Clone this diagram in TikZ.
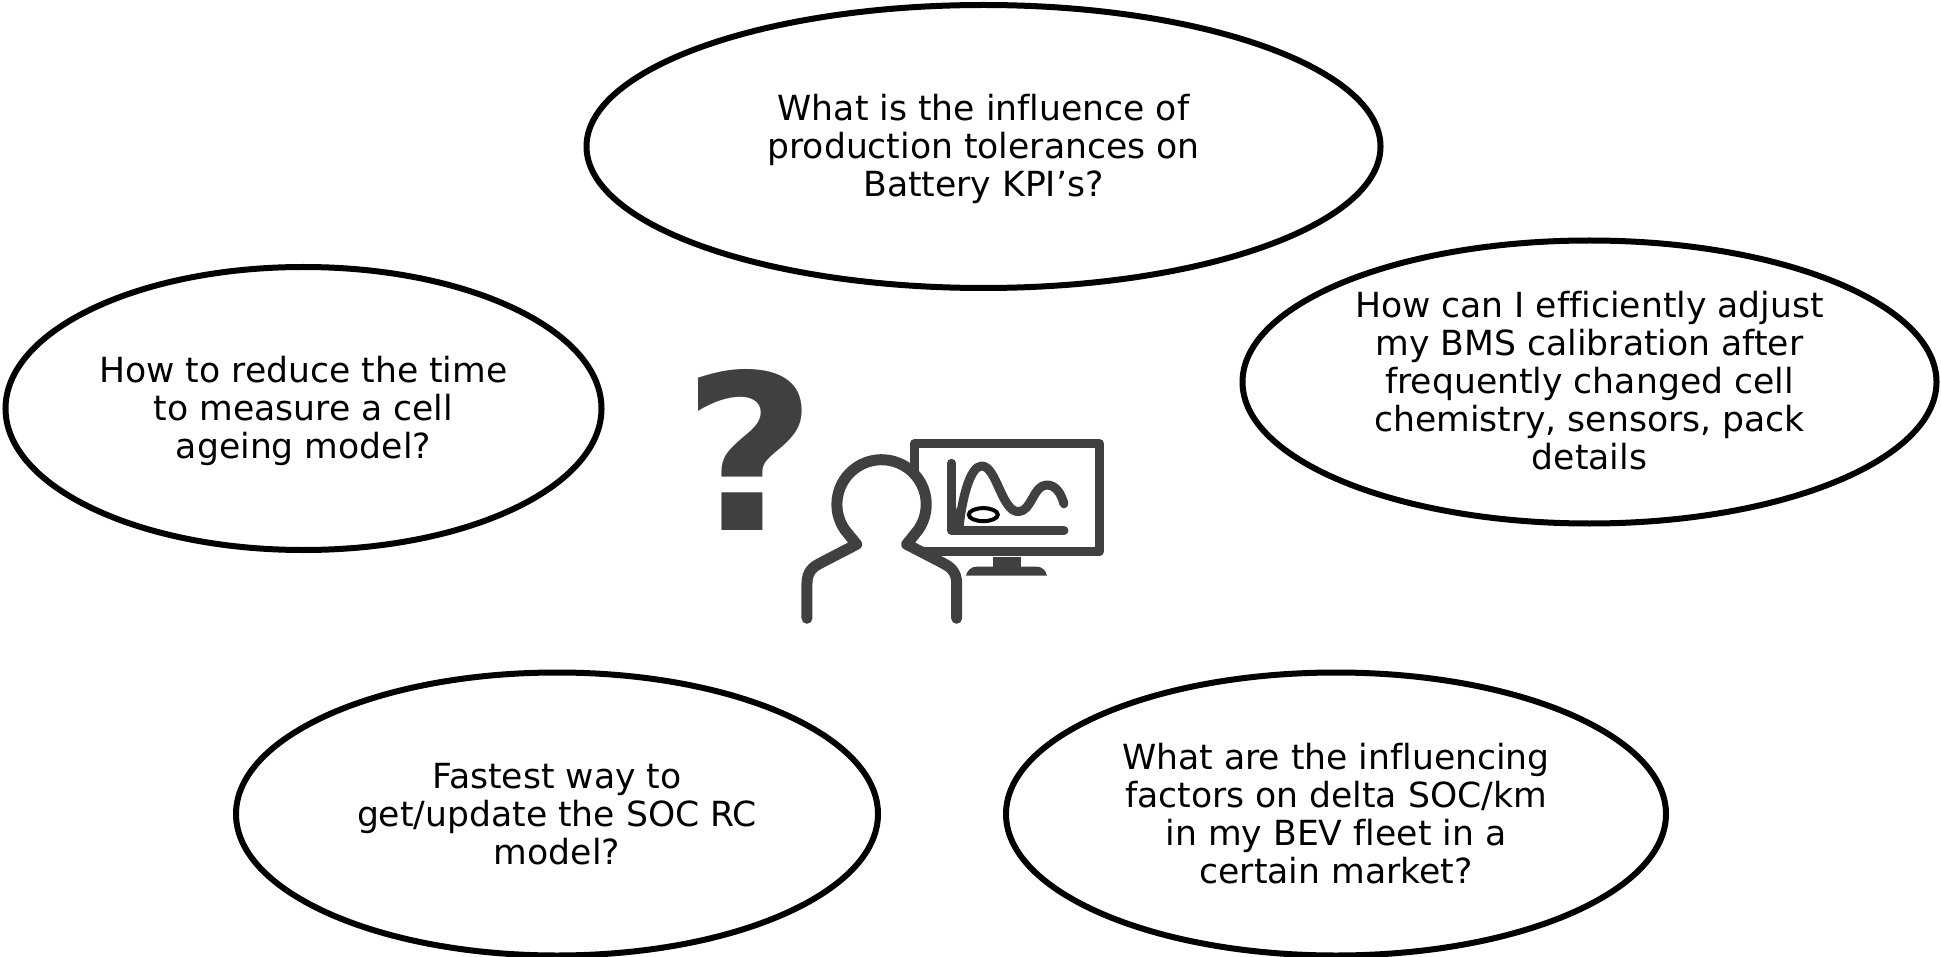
\documentclass[tikz,border=0pt]{standalone}
\usepackage{fontspec}
\setmainfont[Ligatures=NoCommon]{DejaVu Sans}
\usetikzlibrary{shapes.geometric}
\definecolor{icongray}{HTML}{404040}
\newcommand{\lowerfive}{\rule{0pt}{31pt}}
\newcommand{\raisetwo}{\rule[-4pt]{0pt}{1pt}}
\tikzset{
  bubble/.style={ellipse,draw=black,line width=6pt,fill=white,inner sep=0pt,outer sep=0pt,align=center,
    font=\fontsize{34.6}{38}\selectfont,minimum height=283pt},
  iconline/.style={draw=icongray,line cap=round,line join=round,fill=none},
}
\begin{document}
\begin{tikzpicture}[x=1pt,y=-1pt]
\useasboundingbox (0,0) rectangle (1941,957);
\node[bubble,minimum width=794pt] (top) at (983.5,146.5) {\lowerfive What is the influence of\\production tolerances on\\Battery KPI’s?};
\node[bubble,minimum width=596pt] (left) at (303.5,408.5) {\lowerfive How to reduce the time\\to measure a cell\\ageing model?};
\node[bubble,minimum width=694pt] (right) at (1589.5,382) {How can I efficiently adjust\\my BMS calibration after\\frequently changed cell\\chemistry, sensors, pack\\details\raisetwo};
\node[bubble,minimum width=642pt] (bl) at (557,814) {Fastest way to\\get/update the SOC RC\\model?};
\node[bubble,minimum width=660pt] (br) at (1336,814) {What are the influencing\\factors on delta SOC/km\\in my BEV fleet in a\\certain market?};
\node[anchor=base,inner sep=0pt,text=icongray,xscale=1.07,font=\fontsize{217}{217}\selectfont\bfseries] (qm) at (750,530.5) {?};
\begin{scope}[shift={(660,340)},x=0.3333pt,y=-0.3333pt]
  % monitor
  \draw[draw=icongray,line width=9pt,line join=round] (763,395) -- (763,310) -- (1318,310) -- (1318,636) -- (790,636);
  \fill[icongray] (998,650) rectangle (1082,682);
  \fill[icongray] (918,707) .. controls (922,690) and (935,680) .. (950,680) -- (1130,680) .. controls (1145,680) and (1158,690) .. (1161,707) -- cycle;
  % chart
  \draw[iconline,line width=9pt] (875,370) -- (875,572) -- (1212,572);
  \fill[icongray] (888,500) -- (905,558) -- (885,572) -- cycle;
  \draw[iconline,line width=9pt,line cap=butt] (897,565) .. controls (905,480) and (930,378) .. (965,378) .. controls (1010,378) and (1025,515) .. (1075,515) .. controls (1115,515) and (1120,435) .. (1160,435) .. controls (1190,435) and (1205,465) .. (1212,492);
  \fill[icongray] (1212,492) circle[radius=13];
  \node[draw=black,fill=white,ellipse,line width=4pt,minimum width=29pt,minimum height=13pt,inner sep=0pt,outer sep=0pt] (spot) at (970,524) {};
  % person
  \draw[iconline,line width=11pt] (441,835) -- (441,730) .. controls (441,695) and (460,680) .. (480,670) -- (590,613) -- (555,570)
    arc[start angle=145,end angle=395,radius=134] -- (740,613) -- (850,670) .. controls (870,680) and (890,695) .. (890,730) -- (890,835);
\end{scope}
\end{tikzpicture}
\end{document}
